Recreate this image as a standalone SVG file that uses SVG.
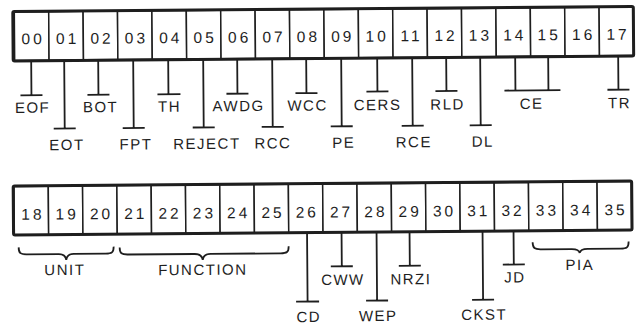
<svg xmlns="http://www.w3.org/2000/svg" width="642" height="327" viewBox="0 0 642 327">
<style>
.frame{fill:none;stroke:#1e1e1e;stroke-width:3}
.cell{fill:#fff;stroke:#1e1e1e;stroke-width:1.5}
.num{font-family:"Liberation Sans",Arial,sans-serif;font-size:15.5px;letter-spacing:3px;text-anchor:middle;fill:#1e1e1e}
.lbl{font-family:"Liberation Sans",Arial,sans-serif;font-size:15px;letter-spacing:1.5px;text-anchor:middle;fill:#1e1e1e}
.ln{fill:none;stroke:#1e1e1e;stroke-width:1.8}
</style>
<rect width="642" height="327" fill="#fff"/>
<g transform="rotate(-0.45 321 163)">
<g id="row1">
<g id="c00"><rect class="cell" x="15.5" y="9.5" width="34.4" height="48.5"/><text class="num" x="34.2" y="42">00</text></g>
<g id="c01"><rect class="cell" x="49.9" y="9.5" width="34.4" height="48.5"/><text class="num" x="68.6" y="42">01</text></g>
<g id="c02"><rect class="cell" x="84.3" y="9.5" width="34.4" height="48.5"/><text class="num" x="103" y="42">02</text></g>
<g id="c03"><rect class="cell" x="118.7" y="9.5" width="34.4" height="48.5"/><text class="num" x="137.4" y="42">03</text></g>
<g id="c04"><rect class="cell" x="153.1" y="9.5" width="34.4" height="48.5"/><text class="num" x="171.8" y="42">04</text></g>
<g id="c05"><rect class="cell" x="187.5" y="9.5" width="34.4" height="48.5"/><text class="num" x="206.2" y="42">05</text></g>
<g id="c06"><rect class="cell" x="221.9" y="9.5" width="34.4" height="48.5"/><text class="num" x="240.6" y="42">06</text></g>
<g id="c07"><rect class="cell" x="256.3" y="9.5" width="34.4" height="48.5"/><text class="num" x="275" y="42">07</text></g>
<g id="c08"><rect class="cell" x="290.7" y="9.5" width="34.4" height="48.5"/><text class="num" x="309.4" y="42">08</text></g>
<g id="c09"><rect class="cell" x="325.1" y="9.5" width="34.4" height="48.5"/><text class="num" x="343.8" y="42">09</text></g>
<g id="c10"><rect class="cell" x="359.5" y="9.5" width="34.4" height="48.5"/><text class="num" x="378.2" y="42">10</text></g>
<g id="c11"><rect class="cell" x="393.9" y="9.5" width="34.4" height="48.5"/><text class="num" x="412.6" y="42">11</text></g>
<g id="c12"><rect class="cell" x="428.3" y="9.5" width="34.4" height="48.5"/><text class="num" x="447" y="42">12</text></g>
<g id="c13"><rect class="cell" x="462.7" y="9.5" width="34.4" height="48.5"/><text class="num" x="481.4" y="42">13</text></g>
<g id="c14"><rect class="cell" x="497.1" y="9.5" width="34.4" height="48.5"/><text class="num" x="515.8" y="42">14</text></g>
<g id="c15"><rect class="cell" x="531.5" y="9.5" width="34.4" height="48.5"/><text class="num" x="550.2" y="42">15</text></g>
<g id="c16"><rect class="cell" x="565.9" y="9.5" width="34.4" height="48.5"/><text class="num" x="584.6" y="42">16</text></g>
<g id="c17"><rect class="cell" x="600.3" y="9.5" width="34.4" height="48.5"/><text class="num" x="619" y="42">17</text></g>
<rect class="frame" x="14" y="9" width="620.5" height="49.5" rx="1.5"/>
</g>
<g id="row2">
<g id="c18"><rect class="cell" x="13.8" y="184" width="34.3" height="48.5"/><text class="num" x="32.5" y="217.5">18</text></g>
<g id="c19"><rect class="cell" x="48.1" y="184" width="34.3" height="48.5"/><text class="num" x="66.8" y="217.5">19</text></g>
<g id="c20"><rect class="cell" x="82.4" y="184" width="34.3" height="48.5"/><text class="num" x="101.1" y="217.5">20</text></g>
<g id="c21"><rect class="cell" x="116.7" y="184" width="34.3" height="48.5"/><text class="num" x="135.4" y="217.5">21</text></g>
<g id="c22"><rect class="cell" x="151" y="184" width="34.3" height="48.5"/><text class="num" x="169.7" y="217.5">22</text></g>
<g id="c23"><rect class="cell" x="185.3" y="184" width="34.3" height="48.5"/><text class="num" x="204" y="217.5">23</text></g>
<g id="c24"><rect class="cell" x="219.6" y="184" width="34.3" height="48.5"/><text class="num" x="238.3" y="217.5">24</text></g>
<g id="c25"><rect class="cell" x="253.9" y="184" width="34.3" height="48.5"/><text class="num" x="272.6" y="217.5">25</text></g>
<g id="c26"><rect class="cell" x="288.2" y="184" width="34.3" height="48.5"/><text class="num" x="306.9" y="217.5">26</text></g>
<g id="c27"><rect class="cell" x="322.5" y="184" width="34.3" height="48.5"/><text class="num" x="341.2" y="217.5">27</text></g>
<g id="c28"><rect class="cell" x="356.8" y="184" width="34.3" height="48.5"/><text class="num" x="375.5" y="217.5">28</text></g>
<g id="c29"><rect class="cell" x="391.1" y="184" width="34.3" height="48.5"/><text class="num" x="409.8" y="217.5">29</text></g>
<g id="c30"><rect class="cell" x="425.4" y="184" width="34.3" height="48.5"/><text class="num" x="444.1" y="217.5">30</text></g>
<g id="c31"><rect class="cell" x="459.7" y="184" width="34.3" height="48.5"/><text class="num" x="478.4" y="217.5">31</text></g>
<g id="c32"><rect class="cell" x="494" y="184" width="34.3" height="48.5"/><text class="num" x="512.7" y="217.5">32</text></g>
<g id="c33"><rect class="cell" x="528.3" y="184" width="34.3" height="48.5"/><text class="num" x="547" y="217.5">33</text></g>
<g id="c34"><rect class="cell" x="562.6" y="184" width="34.3" height="48.5"/><text class="num" x="581.3" y="217.5">34</text></g>
<g id="c35"><rect class="cell" x="596.9" y="184" width="34.3" height="48.5"/><text class="num" x="615.6" y="217.5">35</text></g>
<rect class="frame" x="13" y="183.5" width="618.5" height="49" rx="1.5"/>
</g>
<g id="connectors">
<path class="ln" d="M32,58V93M21,93H43"/>
<path class="ln" d="M65,58V126.5M54,126.5H76"/>
<path class="ln" d="M99,58V93M88,93H110"/>
<path class="ln" d="M134,58V126.5M123,126.5H145"/>
<path class="ln" d="M169,58V93M158,93H181"/>
<path class="ln" d="M204,58V126.5M193,126.5H215"/>
<path class="ln" d="M238,58V93M227,93H249"/>
<path class="ln" d="M273,58V126.5M262,126.5H284"/>
<path class="ln" d="M307,58V93M296,93H318"/>
<path class="ln" d="M342,58V126.5M331,126.5H353"/>
<path class="ln" d="M378,58V92M367,92H389"/>
<path class="ln" d="M413,58V126.5M402,126.5H424"/>
<path class="ln" d="M447,58V92M436,92H458"/>
<path class="ln" d="M481,58V126.5M470,126.5H492"/>
<path class="ln" d="M516,58V92M549,58V92M505,92H561"/>
<path class="ln" d="M619,58V92M608,92H630"/>
<path class="ln" d="M18,245C18,251 20,252 26,252H58C63,252 65,254 65.5,258C66,254 68,252 73,252H105C111,252 113,251 113,245"/>
<path class="ln" d="M119,246C119,252 121,253 127,253H194C199,253 201.5,255 202,259C202.5,255 205,253 210,253H280C286,253 288,252 288,246"/>
<path class="ln" d="M532,244C532,250 534,251 540,251H571C576,251 578.5,252 579,255C579.5,252 582,251 587,251H620C626,251 628,250 628,244"/>
<path class="ln" d="M306.5,232.5V301.5M295,301.5H318"/>
<path class="ln" d="M341,232.5V266.5M330,266.5H352"/>
<path class="ln" d="M376,232.5V301M365,301H387"/>
<path class="ln" d="M409,232.5V266.5M398,266.5H420"/>
<path class="ln" d="M482,232.5V301M471,301H493"/>
<path class="ln" d="M513,232.5V266M502,266H524"/>
</g>
<g id="labels">
<text class="lbl" x="33" y="110.5">EOF</text>
<text class="lbl" x="67" y="148">EOT</text>
<text class="lbl" x="101" y="110.5">BOT</text>
<text class="lbl" x="136" y="148">FPT</text>
<text class="lbl" x="170" y="110.5">TH</text>
<text class="lbl" x="207" y="148">REJECT</text>
<text class="lbl" x="239" y="110.5">AWDG</text>
<text class="lbl" x="273" y="148">RCC</text>
<text class="lbl" x="308" y="110.5">WCC</text>
<text class="lbl" x="344" y="148">PE</text>
<text class="lbl" x="378" y="110.5">CERS</text>
<text class="lbl" x="414" y="148">RCE</text>
<text class="lbl" x="448" y="110.5">RLD</text>
<text class="lbl" x="483" y="148">DL</text>
<text class="lbl" x="532" y="110.5">CE</text>
<text class="lbl" x="620" y="110.5">TR</text>
<text class="lbl" x="64" y="273">UNIT</text>
<text class="lbl" x="202" y="274">FUNCTION</text>
<text class="lbl" x="579" y="272">PIA</text>
<text class="lbl" x="307.5" y="322">CD</text>
<text class="lbl" x="342" y="285">CWW</text>
<text class="lbl" x="377" y="321.5">WEP</text>
<text class="lbl" x="410" y="285">NRZI</text>
<text class="lbl" x="483" y="321">CKST</text>
<text class="lbl" x="514" y="284">JD</text>
</g>
</g>
</svg>
